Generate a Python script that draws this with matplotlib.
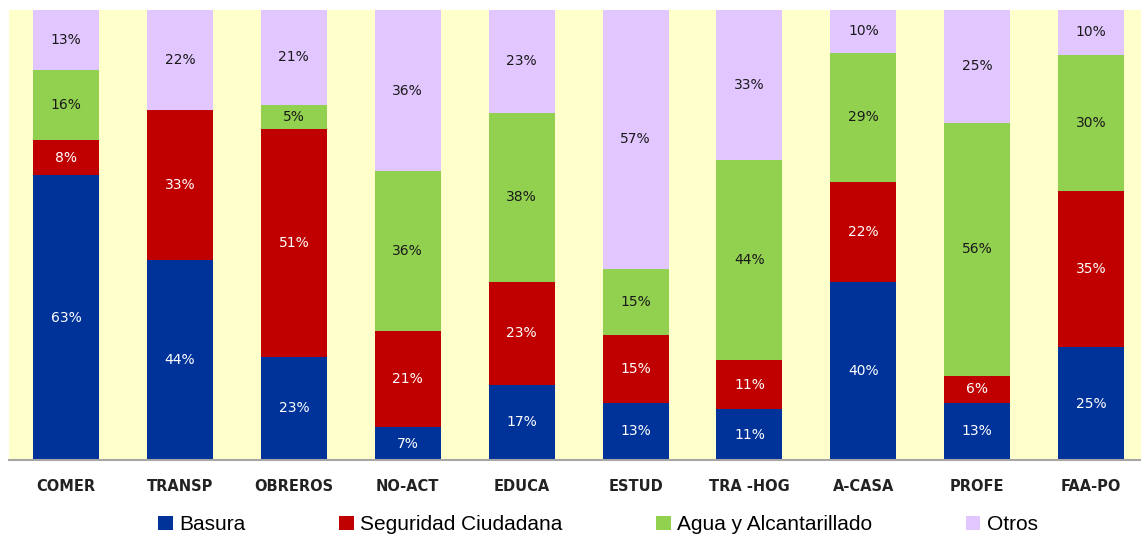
import matplotlib.pyplot as plt
import numpy as np

# data (percent of each group)
categories = ["COMER", "TRANSP", "OBREROS", "NO-ACT", "EDUCA",
              "ESTUD", "TRA -HOG", "A-CASA", "PROFE", "FAA-PO"]
basura = [63.3, 44.4, 22.9, 7.3, 16.7, 12.7, 11.3, 39.6, 12.7, 25.1]
seguridad = [7.8, 33.2, 50.7, 21.3, 22.9, 15.1, 10.9, 22.2, 6.0, 34.7]
agua = [15.6, 0.0, 5.3, 35.6, 37.6, 14.7, 44.4, 28.7, 56.2, 30.2]
otros = [13.3, 22.2, 21.1, 35.8, 22.8, 57.4, 33.4, 9.5, 25.1, 10.0]

series = [
    ("Basura", basura, "#003399", "white"),
    ("Seguridad Ciudadana", seguridad, "#C00000", "white"),
    ("Agua y Alcantarillado", agua, "#92D050", "#1a1a1a"),
    ("Otros", otros, "#E2C6FF", "#1a1a1a"),
]

W, H = 1141, 536
fig = plt.figure(figsize=(W / 100, H / 100), dpi=100)
ax = fig.add_axes([9.1 / W, 76 / H, 1139 / W, 450 / H])
ax.set_facecolor("#FFFFCC")

x = np.arange(len(categories))
totals = np.sum([s[1] for s in series], axis=0)
bottom = np.zeros(len(categories))
for name, vals, color, tcolor in series:
    vals = np.array(vals)
    h = vals / totals * 100
    ax.bar(x, h, 0.58, bottom=bottom, color=color, label=name, zorder=2)
    for xi, b, hi, v in zip(x, bottom, h, vals):
        if v > 0:
            ax.text(xi, b + hi / 2, f"{v:.0f}%", ha="center", va="center",
                    fontsize=10, color=tcolor, zorder=3)
    bottom += h

ax.set_xlim(-0.5, len(categories) - 0.5)
ax.set_ylim(0, 100)
ax.set_yticks([])
ax.set_xticks(x)
ax.set_xticklabels(categories, fontsize=10.5, fontweight="bold", color="#222222")
ax.tick_params(axis="x", length=0, pad=14)
for s in ["top", "right", "left"]:
    ax.spines[s].set_visible(False)
ax.spines["bottom"].set_color("#A6A6A6")
ax.spines["bottom"].set_linewidth(1.5)

fig.legend(loc="center", bbox_to_anchor=(598 / W, 1 - 525 / H), ncol=4,
           frameon=False, prop={"family": "Liberation Sans", "size": 15},
           handlelength=0.7, handleheight=0.65, handletextpad=0.3,
           columnspacing=4.5)

fig.savefig("out.png", dpi=100)
